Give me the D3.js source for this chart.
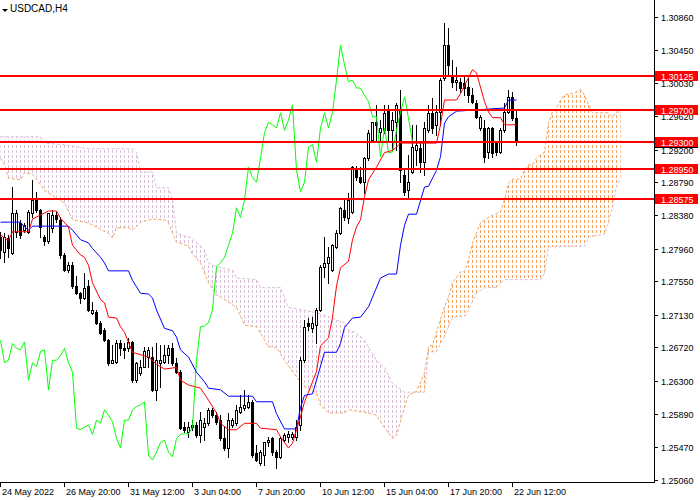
<!DOCTYPE html>
<html>
<head>
<meta charset="utf-8">
<script src="https://cdn.jsdelivr.net/npm/d3@7"></script>
<style>
body{margin:0;background:#fff;}
svg{display:block;font-family:"Liberation Sans",Arial,sans-serif;}
</style>
</head>
<body>
<svg id="chart" width="700" height="500"></svg>
<script>
var symbol = "USDCAD,H4";

// H4 bars, [open, high, low, close]
var candles = [
	[1.2810,1.2817,1.2784,1.2794],[1.2792,1.2815,1.2779,1.2810],[1.2809,1.2813,1.2785,1.2797],[1.2790,1.2873,1.2789,1.2840],
	[1.2817,1.2844,1.2810,1.2840],[1.2828,1.2832,1.2809,1.2813],[1.2819,1.2828,1.2817,1.2825],[1.2817,1.2844,1.2815,1.2842],
	[1.2840,1.2882,1.2835,1.2857],[1.2857,1.2867,1.2842,1.2844],[1.2844,1.2846,1.2810,1.2823],[1.2810,1.2813,1.2800,1.2805],
	[1.2805,1.2841,1.2803,1.2840],[1.2822,1.2844,1.2817,1.2838],[1.2838,1.2842,1.2829,1.2833],[1.2832,1.2835,1.2784,1.2788],
	[1.2788,1.2790,1.2768,1.2769],[1.2769,1.2779,1.2767,1.2775],[1.2775,1.2779,1.2747,1.2749],[1.2749,1.2761,1.2739,1.2740],
	[1.2740,1.2741,1.2728,1.2734],[1.2734,1.2765,1.2733,1.2747],[1.2749,1.2757,1.2718,1.2719],[1.2715,1.2729,1.2714,1.2719],
	[1.2716,1.2719,1.2702,1.2703],[1.2703,1.2705,1.2689,1.2690],[1.2694,1.2697,1.2680,1.2681],[1.2681,1.2683,1.2650,1.2653],
	[1.2653,1.2675,1.2652,1.2656],[1.2654,1.2681,1.2653,1.2677],[1.2677,1.2681,1.2662,1.2671],[1.2671,1.2677,1.2659,1.2669],
	[1.2671,1.2684,1.2667,1.2679],[1.2679,1.2680,1.2629,1.2631],[1.2631,1.2654,1.2629,1.2653],[1.2640,1.2656,1.2638,1.2648],
	[1.2648,1.2673,1.2647,1.2667],[1.2660,1.2673,1.2647,1.2669],[1.2660,1.2673,1.2617,1.2619],[1.2619,1.2678,1.2606,1.2656],
	[1.2653,1.2675,1.2623,1.2656],[1.2654,1.2675,1.2653,1.2662],[1.2662,1.2675,1.2653,1.2671],[1.2671,1.2678,1.2650,1.2653],
	[1.2653,1.2659,1.2640,1.2641],[1.2641,1.2644,1.2570,1.2571],[1.2572,1.2579,1.2566,1.2569],[1.2566,1.2579,1.2560,1.2572],
	[1.2572,1.2581,1.2569,1.2575],[1.2575,1.2579,1.2560,1.2563],[1.2563,1.2591,1.2553,1.2581],[1.2572,1.2584,1.2556,1.2577],
	[1.2577,1.2596,1.2575,1.2594],[1.2594,1.2596,1.2585,1.2587],[1.2587,1.2591,1.2576,1.2579],[1.2581,1.2587,1.2556,1.2558],
	[1.2558,1.2572,1.2544,1.2546],[1.2546,1.2590,1.2535,1.2581],[1.2575,1.2584,1.2572,1.2581],[1.2577,1.2600,1.2575,1.2594],
	[1.2591,1.2612,1.2590,1.2598],[1.2596,1.2619,1.2594,1.2600],[1.2598,1.2612,1.2596,1.2604],[1.2604,1.2606,1.2535,1.2537],
	[1.2540,1.2550,1.2530,1.2531],[1.2527,1.2544,1.2525,1.2541],[1.2537,1.2554,1.2525,1.2553],[1.2553,1.2560,1.2548,1.2556],
	[1.2558,1.2560,1.2537,1.2541],[1.2541,1.2544,1.2521,1.2535],[1.2535,1.2560,1.2534,1.2558],[1.2556,1.2565,1.2554,1.2563],
	[1.2560,1.2567,1.2553,1.2564],[1.2560,1.2566,1.2557,1.2564],[1.2560,1.2581,1.2556,1.2572],[1.2575,1.2660,1.2569,1.2656],
	[1.2656,1.2706,1.2654,1.2698],[1.2703,1.2709,1.2694,1.2699],[1.2697,1.2710,1.2691,1.2703],[1.2700,1.2721,1.2678,1.2719],
	[1.2719,1.2775,1.2718,1.2773],[1.2773,1.2810,1.2760,1.2778],[1.2778,1.2798,1.2753,1.2785],[1.2769,1.2802,1.2768,1.2800],
	[1.2798,1.2819,1.2797,1.2815],[1.2815,1.2848,1.2814,1.2847],[1.2844,1.2859,1.2832,1.2835],[1.2834,1.2866,1.2828,1.2857],
	[1.2842,1.2899,1.2840,1.2898],[1.2897,1.2899,1.2882,1.2885],[1.2885,1.2898,1.2878,1.2879],[1.2879,1.2911,1.2866,1.2909],
	[1.2909,1.2944,1.2907,1.2941],[1.2932,1.2955,1.2929,1.2954],[1.2955,1.2976,1.2929,1.2951],[1.2942,1.2957,1.2929,1.2947],
	[1.2944,1.2976,1.2941,1.2966],[1.2970,1.2976,1.2932,1.2944],[1.2944,1.2967,1.2919,1.2957],[1.2955,1.2978,1.2919,1.2976],
	[1.2970,1.2995,1.2879,1.2894],[1.2888,1.2894,1.2863,1.2867],[1.2869,1.2913,1.2861,1.2879],[1.2892,1.2951,1.2891,1.2923],
	[1.2919,1.2951,1.2901,1.2926],[1.2922,1.2929,1.2892,1.2904],[1.2904,1.2955,1.2888,1.2947],[1.2944,1.2976,1.2942,1.2966],
	[1.2966,1.2985,1.2941,1.2947],[1.2951,1.2976,1.2938,1.2967],[1.2967,1.3010,1.2951,1.3007],[1.3010,1.3078,1.3007,1.3051],
	[1.3051,1.3072,1.3013,1.3026],[1.3011,1.3032,1.2998,1.3005],[1.3005,1.3023,1.2995,1.3007],[1.3005,1.3010,1.2992,1.2997],
	[1.3003,1.3013,1.2988,1.2997],[1.2998,1.3010,1.2980,1.2988],[1.2988,1.2997,1.2978,1.2980],[1.2978,1.2982,1.2959,1.2961],
	[1.2947,1.2963,1.2944,1.2961],[1.2947,1.2957,1.2904,1.2911],[1.2917,1.2948,1.2909,1.2947],[1.2947,1.2948,1.2911,1.2916],
	[1.2929,1.2931,1.2913,1.2917],[1.2917,1.2947,1.2916,1.2944],[1.2944,1.2978,1.2942,1.2967],[1.2967,1.2995,1.2966,1.2986],
	[1.2986,1.2992,1.2957,1.2959],[1.2959,1.2970,1.2926,1.2929]
];

// ichimoku lines, [bar, price]
var tenkan = [
	[0,1.2813],[2,1.2806],[3,1.2817],[7,1.2817],[8,1.2833],[10,1.2838],[12,1.2843],[14,1.2843],[15,1.2834],[17,1.2823],
	[18,1.2800],[20,1.2788],[21,1.2785],[22,1.2775],[23,1.2753],[25,1.2732],[26,1.2728],[27,1.2710],[29,1.2709],[30,1.2698],
	[31,1.2691],[33,1.2666],[37,1.2660],[39,1.2651],[41,1.2645],[44,1.2647],[45,1.2631],[47,1.2625],[50,1.2621],[52,1.2606],
	[54,1.2590],[55,1.2577],[57,1.2569],[59,1.2569],[61,1.2577],[64,1.2577],[65,1.2571],[69,1.2569],[70,1.2560],[72,1.2546],
	[73,1.2552],[74,1.2569],[75,1.2585],[76,1.2604],[77,1.2616],[78,1.2629],[79,1.2642],[80,1.2674],[82,1.2684],[83,1.2710],
	[84,1.2749],[85,1.2772],[87,1.2780],[88,1.2807],[89,1.2823],[90,1.2832],[91,1.2861],[92,1.2882],[94,1.2898],[96,1.2916],
	[98,1.2919],[99,1.2923],[100,1.2928],[109,1.2928],[110,1.2951],[111,1.2982],[114,1.2982],[115,1.2990],[117,1.3010],
	[118,1.3020],[119,1.3016],[121,1.2980],[122,1.2967],[123,1.2960],[125,1.2960],[126,1.2951],[129,1.2951]
];
var kijun = [
	[0,1.2829],[5,1.2829],[6,1.2823],[7,1.2819],[8,1.2824],[17,1.2824],[18,1.2819],[20,1.2807],[22,1.2803],[23,1.2796],
	[25,1.2785],[26,1.2778],[27,1.2768],[32,1.2768],[33,1.2756],[35,1.2740],[37,1.2739],[38,1.2734],[39,1.2719],[41,1.2696],
	[43,1.2693],[44,1.2685],[45,1.2669],[47,1.2660],[49,1.2641],[51,1.2629],[52,1.2621],[55,1.2619],[57,1.2611],[63,1.2611],
	[64,1.2604],[68,1.2604],[69,1.2589],[71,1.2570],[74,1.2570],[75,1.2597],[76,1.2612],[78,1.2614],[79,1.2631],[81,1.2666],
	[84,1.2666],[85,1.2677],[86,1.2697],[88,1.2709],[90,1.2710],[92,1.2723],[93,1.2735],[95,1.2759],[97,1.2764],[99,1.2764],
	[100,1.2800],[101,1.2825],[102,1.2839],[104,1.2839],[106,1.2873],[107,1.2874],[109,1.2894],[110,1.2911],[111,1.2953],
	[112,1.2961],[114,1.2968],[126,1.2972],[127,1.2982],[129,1.2982]
];
var spanA = [
	[0,1.2909],[1,1.2901],[2,1.2884],[5,1.2882],[6,1.2891],[8,1.2889],[9,1.2883],[11,1.2869],[13,1.2862],[16,1.2853],
	[18,1.2832],[22,1.2828],[25,1.2820],[27,1.2815],[28,1.2809],[29,1.2822],[32,1.2822],[33,1.2819],[35,1.2829],[38,1.2833],
	[41,1.2832],[42,1.2828],[43,1.2815],[44,1.2804],[47,1.2799],[48,1.2789],[50,1.2778],[52,1.2753],[54,1.2738],[57,1.2729],
	[59,1.2722],[61,1.2700],[64,1.2698],[67,1.2673],[69,1.2672],[71,1.2656],[74,1.2635],[76,1.2623],[79,1.2615],[80,1.2600],
	[82,1.2590],[86,1.2590],[87,1.2594],[92,1.2590],[94,1.2587],[96,1.2572],[98,1.2558],[99,1.2562],[101,1.2597],[102,1.2612],
	[104,1.2617],[106,1.2640],[107,1.2673],[108,1.2675],[109,1.2691],[111,1.2723],[112,1.2735],[113,1.2753],[115,1.2767],
	[116,1.2767],[117,1.2782],[118,1.2803],[120,1.2828],[122,1.2835],[125,1.2842],[126,1.2857],[127,1.2878],[128,1.2883],
	[130,1.2883],[131,1.2894],[132,1.2901],[133,1.2901],[134,1.2909],[136,1.2917],[137,1.2953],[138,1.2967],[139,1.2972],
	[140,1.2982],[141,1.2988],[144,1.2992],[145,1.2995],[146,1.2988],[147,1.2976],[148,1.2966],[152,1.2966],[153,1.2961],
	[154,1.2967],[155,1.2967]
];
var spanB = [
	[0,1.2936],[10,1.2936],[11,1.2928],[16,1.2926],[22,1.2921],[33,1.2921],[34,1.2916],[35,1.2892],[38,1.2892],[39,1.2872],
	[42,1.2872],[43,1.2857],[44,1.2815],[48,1.2809],[51,1.2794],[52,1.2778],[54,1.2773],[58,1.2769],[59,1.2759],[64,1.2757],
	[65,1.2747],[70,1.2747],[72,1.2722],[79,1.2716],[86,1.2703],[87,1.2694],[89,1.2690],[91,1.2681],[94,1.2656],[96,1.2647],
	[98,1.2627],[101,1.2616],[106,1.2616],[107,1.2666],[109,1.2667],[111,1.2686],[112,1.2698],[113,1.2710],[116,1.2711],
	[117,1.2719],[119,1.2740],[121,1.2747],[124,1.2747],[126,1.2757],[135,1.2757],[136,1.2765],[137,1.2798],[146,1.2799],
	[147,1.2810],[151,1.2814],[152,1.2828],[153,1.2848],[154,1.2874],[155,1.2884]
];
var chikouShift = 26;

var levels = [1.30125, 1.29700, 1.29300, 1.28950, 1.28575];
var lastPrice = 1.29290;
var priceTicks = [1.30860,1.30450,1.30030,1.29620,1.29200,1.28790,1.28380,1.27960,1.27550,1.27130,1.26720,1.26300,1.25890,1.25470,1.25060];
var timeTicks = [[0,"24 May 2022"],[16,"26 May 20:00"],[32,"31 May 12:00"],[48,"3 Jun 04:00"],[64,"7 Jun 20:00"],
	[80,"10 Jun 12:00"],[96,"15 Jun 04:00"],[112,"17 Jun 20:00"],[128,"22 Jun 12:00"]];


var W = 654, H = 482;
var svg = d3.select("#chart");
var xs = d3.scaleLinear().domain([0, 163.5]).range([0, W]);
var ys = d3.scaleLinear().domain([1.25035, 1.31073]).range([H, 0]);

var defs = svg.append("defs");
defs.append("clipPath").attr("id","plotClip")
	.append("rect").attr("x",0).attr("y",0).attr("width",W).attr("height",H);

function hatch(id,color){
	defs.append("pattern").attr("id",id)
		.attr("patternUnits","userSpaceOnUse")
		.attr("width",4).attr("height",5)
		.append("rect").attr("x",0).attr("y",0).attr("width",1).attr("height",3).attr("fill",color);
}
hatch("hatchDown","#D8BFD8");
hatch("hatchUp","#F4A460");

function px(d){ return [xs(d[0])+0.5, ys(d[1])]; }

// cloud: A forward then B backwards, coloured by side of span A
var aPts = spanA.map(px), bPts = spanB.map(px);
var xEnd = aPts[aPts.length-1][0];
var cloudPts = aPts.concat(bPts.slice().reverse());
var abovePts = [[-5,aPts[0][1]]].concat(aPts,[[xEnd+5,aPts[aPts.length-1][1]],[xEnd+5,-5],[-5,-5]]);
var belowPts = [[-5,aPts[0][1]]].concat(aPts,[[xEnd+5,aPts[aPts.length-1][1]],[xEnd+5,H+5],[-5,H+5]]);
var poly = d3.line();
defs.append("clipPath").attr("id","aboveA").append("path").attr("d",poly(abovePts)+"Z");
defs.append("clipPath").attr("id","belowA").append("path").attr("d",poly(belowPts)+"Z");

var plot = svg.append("g").attr("clip-path","url(#plotClip)");

plot.append("g").attr("clip-path","url(#aboveA)")
	.append("path").attr("d",poly(cloudPts)+"Z").attr("fill","url(#hatchDown)");
plot.append("g").attr("clip-path","url(#belowA)")
	.append("path").attr("d",poly(cloudPts)+"Z").attr("fill","url(#hatchUp)");

var line = d3.line().x(function(d){return xs(d[0])+0.5;}).y(function(d){return ys(d[1]);});

plot.append("path").attr("d",line(spanB)).attr("fill","none")
	.attr("stroke","#D8BFD8").attr("stroke-width",1).attr("stroke-dasharray","3,2");
plot.append("path").attr("d",line(spanA)).attr("fill","none")
	.attr("stroke","#F4A460").attr("stroke-width",1).attr("stroke-dasharray","3,2");

// candles
var cg = plot.append("g").attr("shape-rendering","crispEdges");
candles.forEach(function(c,i){
	var cx = Math.round(xs(i));
	var yo = Math.round(ys(c[0])), yh = Math.round(ys(c[1])), yl = Math.round(ys(c[2])), yc = Math.round(ys(c[3]));
	cg.append("line").attr("x1",cx+0.5).attr("x2",cx+0.5).attr("y1",yh).attr("y2",yl+1)
		.attr("stroke","#000").attr("stroke-width",1);
	if(c[3] >= c[0]){
		cg.append("rect").attr("x",cx-0.5).attr("y",yc+0.5)
			.attr("width",2).attr("height",Math.max(0,yo-yc))
			.attr("fill","#fff").attr("stroke","#000").attr("stroke-width",1);
	}else{
		cg.append("rect").attr("x",cx-1).attr("y",yo)
			.attr("width",3).attr("height",Math.max(1,yc-yo+1))
			.attr("fill","#000");
	}
});

// chikou = close plotted 26 bars back
var chikou = d3.range(0, candles.length-chikouShift).map(function(i){ return [i, candles[i+chikouShift][3]]; });

plot.append("path").attr("d",line(chikou)).attr("fill","none").attr("stroke","#00FF00").attr("stroke-width",1);
plot.append("path").attr("d",line(kijun)).attr("fill","none").attr("stroke","#0000FF").attr("stroke-width",1);
plot.append("path").attr("d",line(tenkan)).attr("fill","none").attr("stroke","#FF0000").attr("stroke-width",1);

// bid line
var yBid = Math.round(ys(lastPrice));
plot.append("line").attr("x1",0).attr("x2",W).attr("y1",yBid+0.5).attr("y2",yBid+0.5)
	.attr("stroke","#C0C0C0").attr("stroke-width",1).attr("shape-rendering","crispEdges");

// horizontal levels
plot.selectAll("line.level").data(levels).enter().append("line")
	.attr("class","level")
	.attr("x1",0).attr("x2",W+1)
	.attr("y1",function(d){return Math.round(ys(d));})
	.attr("y2",function(d){return Math.round(ys(d));})
	.attr("stroke","#FF0000").attr("stroke-width",2).attr("shape-rendering","crispEdges");

// axes
var ax = svg.append("g").attr("shape-rendering","crispEdges");
ax.append("line").attr("x1",W+0.5).attr("x2",W+0.5).attr("y1",0).attr("y2",H+1).attr("stroke","#000");
ax.append("line").attr("x1",0).attr("x2",W+1).attr("y1",H+0.5).attr("y2",H+0.5).attr("stroke","#000");

priceTicks.forEach(function(p){
	var y = Math.round(ys(p));
	ax.append("line").attr("x1",W).attr("x2",W+4).attr("y1",y+0.5).attr("y2",y+0.5).attr("stroke","#000");
	svg.append("text").attr("x",W+7).attr("y",y+4).attr("font-size","9px").attr("fill","#000").text(p.toFixed(5));
});

timeTicks.forEach(function(t){
	var x = Math.round(xs(t[0]));
	ax.append("line").attr("x1",x+0.5).attr("x2",x+0.5).attr("y1",H).attr("y2",H+5).attr("stroke","#000");
	svg.append("text").attr("x",x+2).attr("y",H+13).attr("font-size","9px").attr("fill","#000").text(t[1]);
});

// price labels on the right; the bid box sits under the 1.29300 label
var yLast = Math.round(ys(lastPrice));
svg.append("rect").attr("x",W+1).attr("y",yLast-4).attr("width",43).attr("height",10)
	.attr("fill","#000").attr("shape-rendering","crispEdges");
levels.forEach(function(p){
	var y = Math.round(ys(p));
	svg.append("rect").attr("x",W+1).attr("y",y-5).attr("width",43).attr("height",10)
		.attr("fill","#FF0000").attr("shape-rendering","crispEdges");
	svg.append("text").attr("x",W+7).attr("y",y+4).attr("font-size","9px").attr("fill","#fff").text(p.toFixed(5));
});

// title
svg.append("path").attr("d","M2,9L8,9L5,12Z").attr("fill","#000");
svg.append("text").attr("x",10).attr("y",12).attr("font-size","10px").attr("fill","#000").text(symbol);
</script>
</body>
</html>
